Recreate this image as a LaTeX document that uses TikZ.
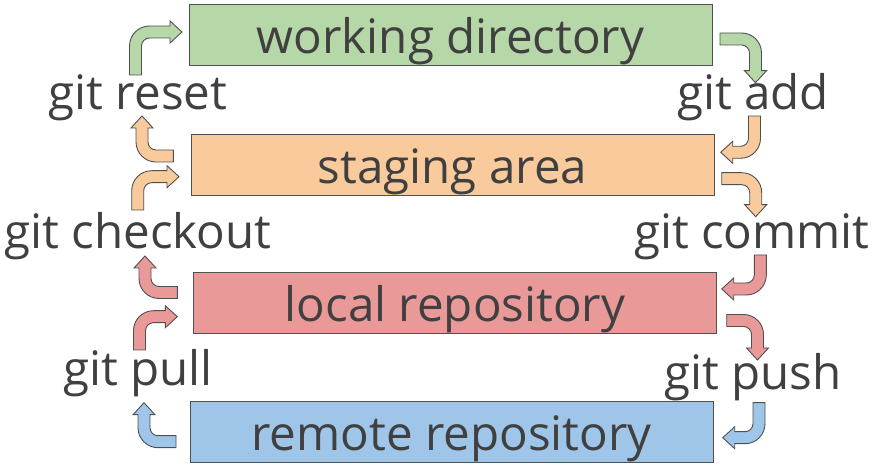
\documentclass[tikz,border=0pt]{standalone}
\usepackage{fontspec}
\setmainfont{Open Sans}
\definecolor{gfill}{HTML}{B6D7A8}
\definecolor{ofill}{HTML}{F9CB9C}
\definecolor{rfill}{HTML}{EA9999}
\definecolor{bfill}{HTML}{9FC5E8}
\definecolor{ink}{HTML}{404040}
\definecolor{edge}{HTML}{505050}
\newcommand\bentarrow[6]{% color, x, y, rotation, P, Q
  \begin{scope}[shift={(#2,#3)}, rotate=#4]
    \pgfmathsetmacro\La{#5-14}
    \pgfmathsetmacro\Lb{#6-26}
    \draw[arrowline, fill=#1] (-6,0) -- (-6,\La)
      arc[start angle=180, end angle=90, radius=20] -- ++(\Lb,0)
      -- ++(0,5) -- ++(12,-11) -- ++(-12,-11) -- ++(0,5) -- ++(-\Lb,0)
      arc[start angle=90, end angle=180, radius=8] -- (6,0) -- cycle;
  \end{scope}}
\begin{document}
\begin{tikzpicture}[x=1pt, y=1pt,
  box/.style={draw=edge, line width=1pt, inner sep=0pt, minimum width=523pt,
    minimum height=61pt, text height=36pt, text depth=0pt, text=ink,
    font=\fontsize{47.5}{52}\selectfont},
  lbl/.style={inner sep=0pt, text=ink, anchor=base, font=\fontsize{47.5}{52}\selectfont},
  arrowline/.style={draw=edge, line width=0.9pt, line join=miter}]
\useasboundingbox (0,0) rectangle (875,470);
\node[box, fill=gfill] (wd) at (450.5,434.5) {working directory};
\node[box, fill=ofill] (sa) at (452.5,304.5) {staging area};
\node[box, fill=rfill] (lr) at (455,166.5) {local repository};
\node[box, fill=bfill] (rr) at (451.5,37.5) {remote repository};
\node[lbl] (reset) at (138,360) {git reset};
\node[lbl] (add) at (753,360) {git add};
\node[lbl] (checkout) at (138,221) {git checkout};
\node[lbl] (commit) at (752,221) {git commit};
\node[lbl] (pull) at (138,84) {git pull};
\node[lbl] (push) at (753,80) {git push};
\bentarrow{gfill}{135.5}{395}{0}{43}{46.5}
\bentarrow{gfill}{720}{431}{-90}{35.5}{43.7}
\bentarrow{ofill}{173.3}{314}{90}{31.3}{40}
\bentarrow{ofill}{137.7}{260}{0}{33.3}{41.3}
\bentarrow{ofill}{754.5}{354}{180}{36.3}{33.8}
\bentarrow{ofill}{721.7}{291.3}{-90}{34}{38}
\bentarrow{rfill}{177.3}{177.5}{90}{32.3}{36.5}
\bentarrow{rfill}{139.5}{120}{0}{33.3}{37.8}
\bentarrow{rfill}{760.3}{215}{180}{34}{38.6}
\bentarrow{rfill}{726.7}{149.5}{-90}{30.8}{39.5}
\bentarrow{bfill}{176}{28.3}{90}{32}{39}
\bentarrow{bfill}{759}{67.3}{180}{35}{36.3}
\end{tikzpicture}
\end{document}
